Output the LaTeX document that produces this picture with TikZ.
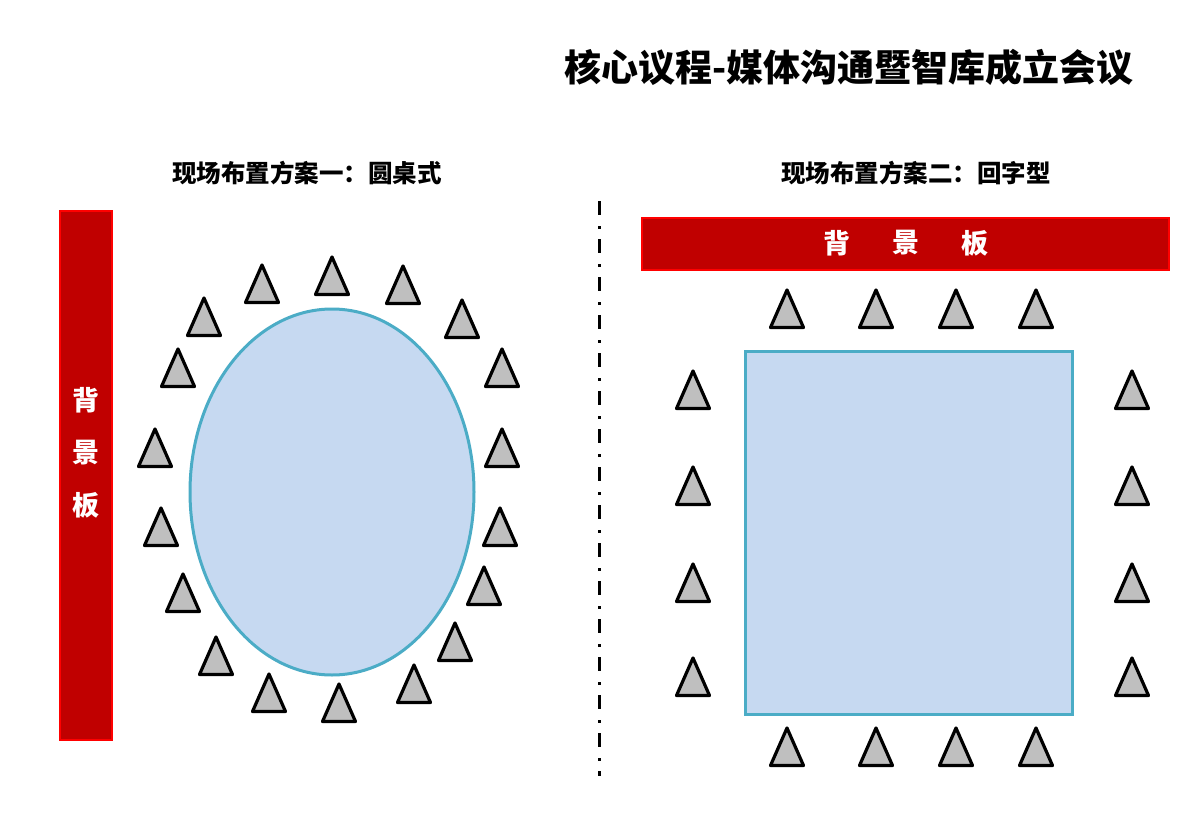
\documentclass[tikz,border=0pt]{standalone}
\usepackage{fontspec}
\newfontfamily\cjk{Noto Sans CJK SC}
\definecolor{boardfill}{HTML}{C00000}
\definecolor{boardline}{HTML}{FF0000}
\definecolor{tablefill}{HTML}{C6D9F1}
\definecolor{tableline}{HTML}{4BACC6}
\definecolor{seatfill}{HTML}{BFBFBF}
\tikzset{
  seatshape/.style={draw=black, fill=seatfill, line width=3.2bp, line join=round},
  seat/.pic={\path[seatshape] (0,0) -- (-16.5,37.5) -- (16.5,37.5) -- cycle;},
  boardbox/.style={draw=boardline, fill=boardfill, line width=2bp},
  tablebox/.style={draw=tableline, fill=tablefill, line width=3bp},
  boardtext/.style={text=white, font=\cjk\bfseries\fontsize{27bp}{27bp}\selectfont, inner sep=0pt},
  subtitle/.style={text=black, font=\cjk\bfseries\fontsize{24.5bp}{24.5bp}\selectfont, inner sep=0pt},
  maintitle/.style={text=black, font=\cjk\bfseries\fontsize{37bp}{37bp}\selectfont, inner sep=0pt},
  divider/.style={line width=3bp, dash pattern=on 14bp off 11bp on 3bp off 10bp}
}
\begin{document}
\begin{tikzpicture}[x=1bp, y=-1bp]
\path[use as bounding box, fill=white] (0,0) rectangle (1200,831);

% titles
\node[maintitle] (title) at (849,67) {核心议程-媒体沟通暨智库成立会议};
\node[subtitle] (sub1) at (307,173) {现场布置方案一：圆桌式};
\node[subtitle] (sub2) at (916,173) {现场布置方案二：回字型};

% divider
\coordinate (divtop) at (599,201);
\coordinate (divbot) at (599,776);
\draw[divider] (divtop) -- (divbot);

% ---------- left layout ----------
\path[boardbox] (60,211) rectangle (112,740);
\node[boardtext] (lb1) at (86,400) {背};
\node[boardtext] (lb2) at (86,453) {景};
\node[boardtext] (lb3) at (86,505) {板};

\path[tablebox] (332,492) ellipse [x radius=142, y radius=183];

\foreach \x/\y in {262/265, 332/257, 403/266, 204/298, 462/300, 178/349, 502/349,
                   155/429, 502/429, 161/508, 500/508, 183/574, 484/567,
                   216/637, 455/623, 269/674, 339/684, 414/665}
  \pic at (\x,\y) {seat};

% ---------- right layout ----------
\path[boardbox] (642,218) rectangle (1169,270);
\node[boardtext] (rb1) at (837,243) {背};
\node[boardtext] (rb2) at (906,243) {景};
\node[boardtext] (rb3) at (975,243) {板};

\path[tablebox] (745,351) rectangle (1072,714);

\foreach \x in {787, 876, 956, 1036} {
  \pic at (\x,290) {seat};
  \pic at (\x,728) {seat};
}
\foreach \y in {371, 467, 564, 658} {
  \pic at (693,\y) {seat};
  \pic at (1132,\y) {seat};
}
\end{tikzpicture}
\end{document}
